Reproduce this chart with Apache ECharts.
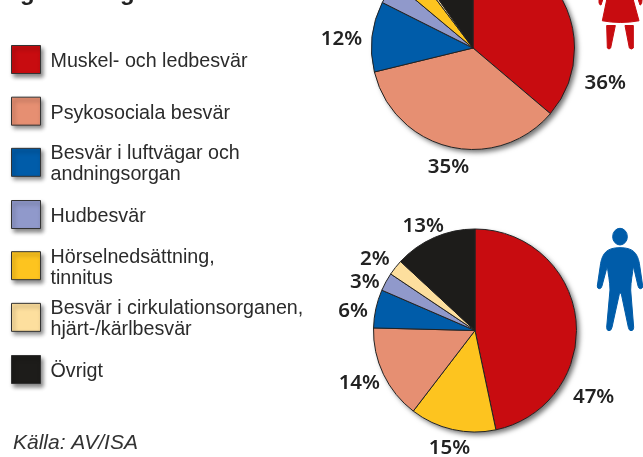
<!DOCTYPE html>
<html><head><meta charset="utf-8">
<style>html,body{margin:0;padding:0;background:#fff}#c{width:643px;height:457px}</style>
<script src="https://cdn.jsdelivr.net/npm/echarts@6/dist/echarts.min.js"></script>
</head><body><div id="c"></div>
<script>
const categories = ['Muskel- och ledbesvär','Psykosociala besvär','Besvär i luftvägar och\nandningsorgan','Hudbesvär','Hörselnedsättning,\ntinnitus','Besvär i cirkulationsorganen,\nhjärt-/kärlbesvär','Övrigt'];
const colors = ['#c80c10','#e68f72','#005ca9','#9099cb','#fdc41f','#fddf9e','#1d1c1a'];
// slice shares as measured on the picture, in legend order
const womenValues = [36.2,35,11.2,3.7,3.6,0.5,9.8];
const menValues = [46.7,15,6.1,2.9,13.7,2.5,13.1];
// printed labels
const womenLabels = ['36%','35%','12%','','','',''];
const menLabels = ['47%','14%','6%','3%','15%','2%','13%'];
// clockwise drawing order of each pie
const womenOrder = [0,1,2,3,4,5,6];
const menOrder = [0,4,1,2,3,5,6];
const womenNudge = [[9,80],[26,15],[1,3],[0,0],[0,0],[0,0],[0,0]];
const menNudge = [[-14,78],[7,6],[3,4],[4,3],[24,13],[4,-5],[17,-6]];

const icons = [
 {fill:'#005ca9',rect:[597.3,228.3,45.4,102.4],d:'M90 83C128 83 142 98 148 130L158 198Q158 206 151 206Q146 206 144 198L130 138C128 160 122 185 122 210L131 322Q131 332 123 332Q117 332 115 322L94 222Q91 216 88 222L66 322Q64 332 57 332Q50 332 50 322L60 210C60 185 54 160 52 138L36 198Q34 206 28 206Q22 206 22 198L32 130C38 98 52 83 90 83Z M68 50A22 25 0 1 0 112 50A22 25 0 1 0 68 50Z'},
 {fill:'#c80c10',rect:[599,0,43,49],d:'M50 0L130 0L147 62Q92 72 37 62Z M50 76L76 76L62 143Q57 149 52 143Z M105 76L130 76L130 143Q124 149 118 143Z M27 0L38 0L33 15Q28 15 27 8Z M145 0L156 0L155 10Q153 15 150 15Z'}
];

const labelFont = {fontFamily:'"Noto Sans"',fontSize:20.5,fontWeight:600,color:'#222'};
function pie(name,center,values,labels,order,nudge){
  return {type:'pie',name,center,radius:[0,101.5],startAngle:90,clockwise:true,animation:false,silent:true,
    avoidLabelOverlap:false,
    label:Object.assign({show:true,position:'outside',formatter:p=>labels[order[p.dataIndex]]},labelFont),
    labelLine:{show:false,length:6,length2:0},
    labelLayout:p=>{const n=nudge[order[p.dataIndex]];return {dx:n[0],dy:n[1]};},
    itemStyle:{borderColor:'#222',borderWidth:1},
    data:order.map(i=>({name:categories[i],value:values[i],itemStyle:{color:colors[i]}}))};
}
function shadow(center){
  return {type:'pie',center,radius:[0,101.5],silent:true,animation:false,label:{show:false},labelLine:{show:false},z:1,
    itemStyle:{color:'#fff',shadowColor:'rgba(0,0,0,0.55)',shadowBlur:5,shadowOffsetX:3,shadowOffsetY:3},
    data:[{name:'',value:1}]};
}
const legends = categories.map((c,i)=>({
  orient:'vertical',left:11,top:45+51.67*i-(c.includes('\n')?5:0),padding:0,itemWidth:29,itemHeight:32,selectedMode:false,
  icon:'path://M0 0L29 0L29 28L0 28Z M0 32L0 32',
  data:[c],
  itemStyle:{borderColor:'#333',borderWidth:1,shadowColor:'rgba(0,0,0,0.45)',shadowBlur:4,shadowOffsetX:2,shadowOffsetY:3},
  textStyle:{fontFamily:'"Liberation Sans"',fontSize:19.7,color:'#2b2b2b',lineHeight:21,padding:[0,0,0,5]}
}));
const chart = echarts.init(document.getElementById('c'),null,{renderer:'canvas'});
chart.setOption({
  animation:false,
  backgroundColor:'#fff',
  title:{text:'Källa: AV/ISA',left:13,top:433,padding:0,textStyle:{fontFamily:'"Liberation Sans"',fontStyle:'italic',fontWeight:'normal',fontSize:21,color:'#333'}},
  legend:legends,
  graphic:[
    {type:'text',silent:true,x:20,y:-19,style:{text:'g',fontFamily:'"Liberation Sans"',fontWeight:'bold',fontSize:24,fill:'#222'}},
    {type:'text',silent:true,x:120,y:-19,style:{text:'g',fontFamily:'"Liberation Sans"',fontWeight:'bold',fontSize:24,fill:'#222'}}
  ],
  series:[
    shadow([473,48]),shadow([475,330.5]),
    Object.assign(pie('Kvinnor',[473,48],womenValues,womenLabels,womenOrder,womenNudge),{z:2}),
    Object.assign(pie('Män',[475,330.5],menValues,menLabels,menOrder,menNudge),{z:2}),
    {type:'custom',coordinateSystem:'none',silent:true,animation:false,z:3,data:[0,1],
     renderItem:(params)=>{const ic=icons[params.dataIndex];return {type:'path',
       shape:{pathData:ic.d,layout:'cover',x:ic.rect[0],y:ic.rect[1],width:ic.rect[2],height:ic.rect[3]},style:{fill:ic.fill,stroke:ic.fill,lineWidth:1}};}}
  ]
});
</script></body></html>
